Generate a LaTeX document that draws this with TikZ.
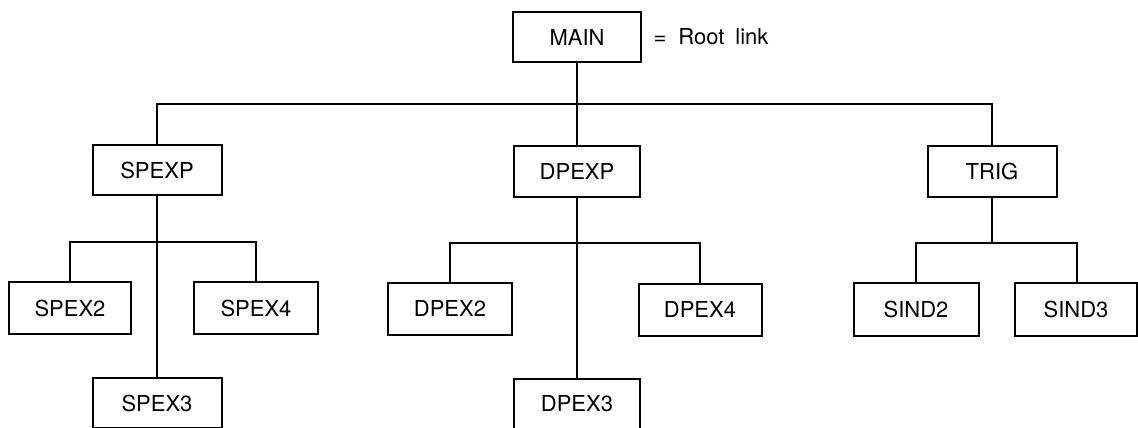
\documentclass[tikz,border=0pt]{standalone}
\usepackage{fontspec}
\setmainfont{TeX Gyre Heros}
\begin{document}
\begin{tikzpicture}[x=1pt,y=-1pt,
  box/.style={draw=black,line width=2pt,rectangle,inner sep=0pt,minimum width=126pt,minimum height=51pt,font=\fontsize{22}{26}\selectfont},
  link/.style={draw=black,line width=1.7pt}]
\useasboundingbox (0,0) rectangle (1138,428);
% nodes
\node[box,minimum width=128pt,minimum height=50pt] (main) at (577,37) {MAIN};
\node[anchor=west,font=\fontsize{22}{26}\selectfont] (legend) at (650,37) {=\hspace{12pt}Root\hspace{11pt}link};
\node[box,minimum width=129pt,minimum height=50pt] (spexp) at (157,170) {SPEXP};
\node[box] (dpexp) at (577,171) {DPEXP};
\node[box,minimum width=129pt] (trig) at (992,171.5) {TRIG};
\node[box,minimum width=122pt,minimum height=52pt] (spex2) at (70,308) {SPEX2};
\node[box,minimum width=124pt,minimum height=52pt] (spex4) at (256,308) {SPEX4};
\node[box,minimum width=129pt,minimum height=50pt] (spex3) at (157,403) {SPEX3};
\node[box,minimum width=124pt,minimum height=52pt] (dpex2) at (450,308.5) {DPEX2};
\node[box,minimum width=123pt,minimum height=52pt] (dpex4) at (700,309.5) {DPEX4};
\node[box,minimum height=50pt] (dpex3) at (577,403.5) {DPEX3};
\node[box,minimum width=125pt,minimum height=53pt] (sind2) at (916,309) {SIND2};
\node[box,minimum width=122pt,minimum height=53pt] (sind3) at (1076,309) {SIND3};
% bus coordinates
\coordinate (bus0) at (577,104);
\coordinate (bus1) at (157,242);
\coordinate (bus2) at (577,243);
\coordinate (bus3) at (992,243);
% connectors
\draw[link] (main.south) -- (dpexp.north);
\draw[link] (spexp.north) |- (bus0) -| (trig.north);
\draw[link] (spexp.south) -- (spex3.north);
\draw[link] (spex2.north) |- (bus1) -| (spex4.north);
\draw[link] (dpexp.south) -- (dpex3.north);
\draw[link] (dpex2.north) |- (bus2) -| (dpex4.north);
\draw[link] (trig.south) -- (bus3);
\draw[link] (sind2.north) |- (bus3) -| ([xshift=1pt]sind3.north);
\end{tikzpicture}
\end{document}
